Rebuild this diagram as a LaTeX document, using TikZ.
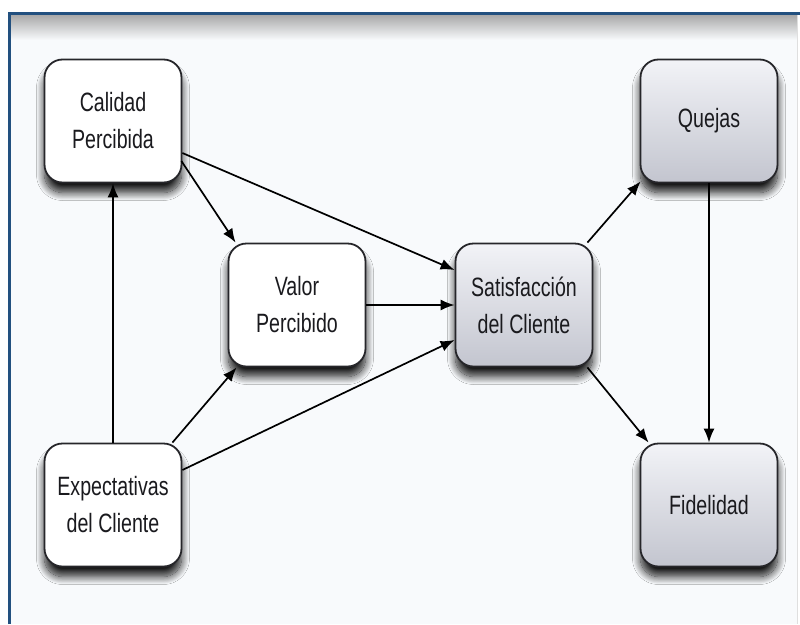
\documentclass[tikz,border=0pt]{standalone}
\usepackage{fontspec}
\setmainfont[FakeStretch=0.74]{Liberation Sans}
\usetikzlibrary{arrows.meta,calc,shadows.blur}
\definecolor{framebl}{HTML}{22507F}
\definecolor{bgc}{HTML}{F8FAFC}
\definecolor{edgec}{HTML}{26262A}
\definecolor{txtc}{HTML}{1A1A1E}
\definecolor{gtop}{HTML}{F2F3F7}
\definecolor{gbot}{HTML}{C3C5CF}
\definecolor{shadc}{HTML}{2E3342}
\tikzset{
  box/.style={draw=edgec, line width=1.8pt, rounded corners=18pt, minimum width=137pt, minimum height=123pt,
    inner sep=0pt, align=center, text=txtc, font=\fontsize{26.5}{37}\selectfont,
    blur shadow={shadow xshift=0pt, shadow yshift=-10pt, shadow blur radius=8pt, shadow blur steps=14, shadow opacity=90, shadow scale=1.0}},
  wbox/.style={box, fill=white},
  gbox/.style={box, top color=gtop, bottom color=gbot},
  arr/.style={-{Latex[length=14pt,width=11pt]}, line width=1.7pt, draw=black}
}
\begin{document}
\begin{tikzpicture}[x=1pt,y=-1pt]
\useasboundingbox (0,0) rectangle (800,624);
\fill[white] (0,0) rectangle (800,624);
\fill[bgc] (9,13) rectangle (797,624);
\shade[top color=gray!70, bottom color=bgc] (9,14) rectangle (797,40);
\draw[gray!25, line width=1pt] (797,14) -- (797,624);
\draw[framebl, line width=3pt] (9,624) -- (9,13) -- (800,13);

\node[wbox] (cal) at (113,121) {Calidad\\Percibida};
\node[wbox] (val) at (297,305) {Valor\\Percibido};
\node[gbox] (sat) at (524,305) {Satisfacción\\del Cliente};
\node[gbox] (que) at (709,121) {Quejas};
\node[wbox] (exp) at (113,505) {Expectativas\\del Cliente};
\node[gbox] (fid) at (709,505) {Fidelidad};

\draw[arr] (exp.north) -- (cal.south);
\draw[arr] ($(cal.east)+(-1,40)$) -- ($(val.north west)+(8,0)$);
\draw[arr] ($(cal.east)+(0,32)$) -- ($(sat.west)+(0,-35)$);
\draw[arr] (val.east) -- (sat.west);
\draw[arr] ($(exp.north east)+(-10,0)$) -- ($(val.south west)+(9,0)$);
\draw[arr] ($(exp.east)+(0,-35)$) -- ($(sat.west)+(0,35)$);
\draw[arr] ($(sat.north east)+(-6,0)$) -- ($(que.south west)+(1,-2)$);
\draw[arr] ($(sat.south east)+(-6,0)$) -- ($(fid.north west)+(9,0)$);
\draw[arr] (que.south) -- (fid.north);
\end{tikzpicture}
\end{document}
